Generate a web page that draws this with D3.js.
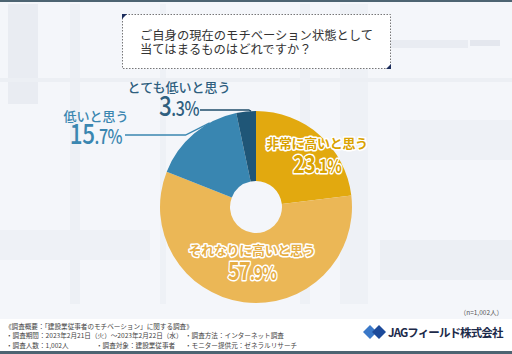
<!DOCTYPE html>
<html>
<head>
<meta charset="utf-8">
<script src="https://d3js.org/d3.v7.min.js"></script>
<style>
  body { margin: 0; background: #fff; }
  svg text { font-family: "Noto Sans CJK JP", "Noto Sans", sans-serif; }
</style>
</head>
<body>
<div id="chart"></div>
<script>
// data
var categories = ["非常に高いと思う", "それなりに高いと思う", "低いと思う", "とても低いと思う"];
var values = [23.1, 57.9, 15.7, 3.3];
var sliceColors = ["#e2a90f", "#ebb756", "#3986b1", "#1f5677"];
var question = ["ご自身の現在のモチベーション状態として", "当てはまるものはどれですか？"];
var notes = [
  [["《調査概要：「建設業従事者のモチベーション」に関する調査》", 5]],
  [["・調査期間：2023年2月21日（火）～2023年2月22日（水）", 6], ["・調査方法：インターネット調査", 185]],
  [["・調査人数：1,002人", 6], ["・調査対象：建設業従事者", 96], ["・モニター提供元：ゼネラルリサーチ", 185]]
];

var W = 512, H = 354;
var svg = d3.select("#chart").append("svg").attr("width", W).attr("height", H);

// background
svg.append("rect").attr("width", W).attr("height", H).attr("fill", "#f4f6fa");
var bg = [[8, 4, 30, 100, "#e9ecf2"], [70, 4, 10, 300, "#edf0f5"], [160, 4, 6, 300, "#eef1f6"],
          [340, 4, 28, 300, "#eef1f6"], [368, 40, 100, 8, "#e9ecf2"], [470, 40, 30, 6, "#e4e7ee"],
          [0, 78, 512, 4, "#eceff4"], [300, 4, 10, 300, "#eef1f6"], [400, 120, 112, 40, "#eef1f6"],
          [0, 230, 150, 30, "#eef1f6"], [380, 240, 132, 40, "#eceff4"]];
svg.selectAll(".bg").data(bg).enter().append("rect")
  .attr("x", d => d[0]).attr("y", d => d[1]).attr("width", d => d[2]).attr("height", d => d[3])
  .attr("fill", d => d[4]);

// borders and footer
svg.append("rect").attr("x", 0).attr("y", 0).attr("width", W).attr("height", 2).attr("fill", "#4d6472");
svg.append("rect").attr("x", 0).attr("y", 319).attr("width", W).attr("height", 32).attr("fill", "#ffffff");
svg.append("rect").attr("x", 0).attr("y", 351).attr("width", W).attr("height", 3).attr("fill", "#4d6472");

// question box
svg.append("rect").attr("x", 122.5).attr("y", 14.5).attr("width", 268).attr("height", 54)
  .attr("fill", "#fff").attr("stroke", "#555").attr("stroke-width", 0.8).attr("stroke-dasharray", "1.5,1.5");
svg.append("path").attr("d", "M122,14 L127,14 L122,19 Z").attr("fill", "#1c2d5c");
svg.append("path").attr("d", "M391,69 L386,69 L391,64 Z").attr("fill", "#1c2d5c");
svg.selectAll(".q").data(question).enter().append("text")
  .attr("x", 140).attr("y", (d, i) => 40 + i * 13.5)
  .attr("font-size", 12.3).attr("fill", "#333").text(d => d);

// pie
var cx = 256, cy = 207, R = 96, r0 = 26;
var g = svg.append("g").attr("transform", "translate(" + cx + "," + cy + ")");
var pie = d3.pie().sort(null).value(d => d.v);
var arcs = pie(categories.map((c, i) => ({ c: c, v: values[i], col: sliceColors[i] })));
var arc = d3.arc().innerRadius(r0).outerRadius(R);
g.selectAll("path.slice").data(arcs).enter().append("path")
  .attr("d", arc).attr("fill", d => d.data.col);

// percent text, narrow like the original
function pct(parent, v, x, y, big, small, attrs) {
  var s1 = String(v).split(".");
  var t = parent.append("text").attr("text-anchor", "middle")
    .attr("transform", "translate(" + x + "," + y + ") scale(0.8,1)");
  Object.keys(attrs).forEach(k => t.attr(k, attrs[k]));
  t.append("tspan").attr("font-size", big).text(s1[0]);
  t.append("tspan").attr("font-size", small).text("." + s1[1] + "%");
  return t;
}

// inside labels (gold text with white outline)
var inside = [
  { i: 0, dx: 61, dy: -59, tc: "#d9a200" },
  { i: 1, dx: -4, dy: 48, tc: "#e6ae45" }
];
inside.forEach(function (o) {
  var a = arcs[o.i];
  [["white", 3], [o.tc, 0]].forEach(function (s) {
    g.append("text").attr("x", o.dx).attr("y", o.dy).attr("text-anchor", "middle")
      .attr("fill", s[0]).attr("stroke", s[0]).attr("stroke-width", s[1])
      .attr("stroke-linejoin", "round").attr("font-weight", 700)
      .attr("font-size", 13).attr("letter-spacing", -0.3).text(a.data.c);
    pct(g, a.data.v, o.dx, o.dy + 25, 25, 19, {
      fill: s[0], stroke: s[0], "stroke-width": s[1], "stroke-linejoin": "round",
      "font-weight": 700, "letter-spacing": -1
    });
  });
});

// outside labels with leader lines
var outside = [
  { i: 2, lx: 96, ly: 121, ny: 144, lineStart: 125, lineY: 135, frac: 0.7, tc: "#3a86b0", lc: "#3a86b0" },
  { i: 3, lx: 179, ly: 92, ny: 116, lineStart: 200, lineY: 110, frac: 0.75, tc: "#2e5e7e", lc: "#1f4d6b" }
];
outside.forEach(function (o) {
  var a = arcs[o.i];
  var ang = a.startAngle + (a.endAngle - a.startAngle) * o.frac;
  var ex = cx + R * Math.sin(ang), ey = cy - R * Math.cos(ang);
  var bx = ex - 8 * Math.abs(ey - o.lineY) / 4;
  svg.append("path")
    .attr("d", "M" + o.lineStart + "," + o.lineY + " L" + bx + "," + o.lineY + " L" + ex + "," + ey)
    .attr("fill", "none").attr("stroke", o.lc).attr("stroke-width", 1.3);
  svg.append("text").attr("x", o.lx).attr("y", o.ly).attr("text-anchor", "middle")
    .attr("font-size", 13).attr("font-weight", 500).attr("fill", o.tc).text(a.data.c);
  pct(svg, a.data.v, o.lx, o.ny, 28, 20, { fill: o.tc, "font-weight": 500, "letter-spacing": -0.5 });
});

// sample size
svg.append("text").attr("x", 503).attr("y", 315).attr("text-anchor", "end")
  .attr("font-size", 6.5).attr("fill", "#555").text("（n=1,002人）");

// footer notes
notes.forEach(function (line, li) {
  line.forEach(function (seg) {
    svg.append("text").attr("x", seg[1]).attr("y", 329 + li * 9.3)
      .attr("font-size", 6.6).attr("fill", "#444").text(seg[0]);
  });
});

// logo
var lg = svg.append("g").attr("transform", "translate(374,332)");
lg.append("path").attr("d", "M-11,0 L-4,-7 L3,0 L-4,7 Z").attr("fill", "#3a78c8");
lg.append("path").attr("d", "M-2,0 L5,-7 L12,0 L5,7 Z").attr("fill", "#1d4a9a");
svg.append("text").attr("x", 388).attr("y", 337).attr("font-size", 11.5).attr("font-weight", 700)
  .attr("fill", "#1c2a4a").attr("letter-spacing", -0.9).text("JAGフィールド株式会社");
</script>
</body>
</html>
